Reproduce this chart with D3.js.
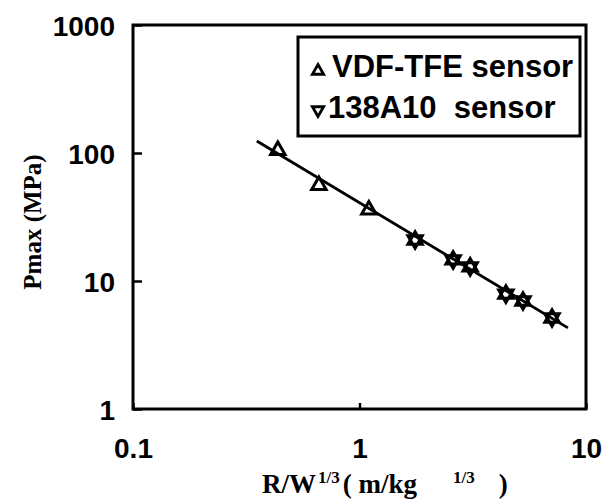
<!DOCTYPE html>
<html>
<head>
<meta charset="utf-8">
<script src="https://cdn.jsdelivr.net/npm/d3@7"></script>
<style>
    body { margin: 0; background: #fff; }
    .tick-label { font-family: "Liberation Sans", Arial, sans-serif; font-weight: bold; font-size: 28px; }
    .axis-title { font-family: "Liberation Serif", "Times New Roman", serif; font-weight: bold; fill: #000; }
    .legend-text { font-family: "Liberation Sans", Arial, sans-serif; font-weight: bold; font-size: 31px; fill: #000; }
</style>
</head>
<body>
<div id="divChart"></div>
<script>
// scaled distance R/W^1/3 (m/kg^1/3)
var vdfX = [0.436, 0.662, 1.10, 1.76, 2.59, 3.08, 4.43, 5.27, 7.08];
// peak pressure (MPa)
var vdfY = [105, 56, 35.9, 20.9, 14.6, 12.9, 7.9, 6.98, 5.14];

var pcbX = [1.76, 2.59, 3.08, 4.43, 5.27, 7.08];
var pcbY = [20.9, 14.6, 12.9, 7.9, 6.98, 5.14];

// fitted line end points
var fitX = [0.352, 8.32];
var fitY = [124, 4.30];

var xTicks = [0.1, 1, 10];
var yTicks = [1, 10, 100, 1000];
var legendNames = ["VDF-TFE sensor", "138A10  sensor"];

function drawChart() {
    var width = 606, height = 501;
    var margin = { top: 25, right: 20, bottom: 92, left: 133 };
    var plotW = width - margin.left - margin.right;
    var plotH = height - margin.top - margin.bottom;

    var svg = d3.select('#divChart').append('svg')
        .attr('width', width).attr('height', height);

    var g = svg.append('g')
        .attr('transform', 'translate(' + margin.left + ',' + margin.top + ')');

    var x = d3.scaleLog().domain([0.1, 10]).range([0, plotW]);
    var y = d3.scaleLog().domain([1, 1000]).range([plotH, 0]);

    //y axis, ticks pointing inward
    var yAxis = g.append('g')
        .call(d3.axisLeft(y).tickValues(yTicks).tickSize(-9).tickPadding(18)
            .tickFormat(function (d) { return String(d); }));
    yAxis.select('.domain').remove();
    yAxis.selectAll('line').attr('stroke', '#000').attr('stroke-width', 2.5);
    yAxis.selectAll('text').attr('class', 'tick-label').attr('fill', '#000').attr('dy', '0.36em');

    //x axis
    var xAxis = g.append('g')
        .attr('transform', 'translate(0,' + plotH + ')')
        .call(d3.axisBottom(x).tickValues(xTicks).tickSize(-6).tickPadding(29)
            .tickFormat(function (d) { return d < 1 ? "0.1" : String(d); }));
    xAxis.select('.domain').remove();
    xAxis.selectAll('line').attr('stroke', '#000').attr('stroke-width', 2.5);
    xAxis.selectAll('text').attr('class', 'tick-label').attr('fill', '#000');

    //frame
    g.append('rect')
        .attr('width', plotW).attr('height', plotH)
        .attr('fill', 'none').attr('stroke', '#000').attr('stroke-width', 3);

    //fit line
    var fitData = fitX.map(function (d, i) { return [d, fitY[i]]; });
    g.append('path')
        .datum(fitData)
        .attr('d', d3.line().x(function (d) { return x(d[0]); }).y(function (d) { return y(d[1]); }))
        .attr('fill', 'none').attr('stroke', '#000').attr('stroke-width', 2.8);

    var tri = d3.symbol().type(d3.symbolTriangle).size(90);

    function drawMarkers(xs, ys, rotate) {
        g.append('g').selectAll('path')
            .data(xs.map(function (d, i) { return [d, ys[i]]; }))
            .enter().append('path')
            .attr('d', tri)
            .attr('transform', function (d) {
                return 'translate(' + x(d[0]) + ',' + y(d[1]) + ') rotate(' + rotate + ')';
            })
            .attr('fill', 'none')
            .attr('stroke', '#000').attr('stroke-width', 3);
    }
    drawMarkers(vdfX, vdfY, 0);
    drawMarkers(pcbX, pcbY, 180);

    //legend box
    var legend = svg.append('g').attr('transform', 'translate(298,37)');
    legend.append('rect')
        .attr('width', 282).attr('height', 99)
        .attr('fill', '#fff').attr('stroke', '#000').attr('stroke-width', 3);

    var legendTri = d3.symbol().type(d3.symbolTriangle).size(55);
    legendNames.forEach(function (name, i) {
        var rowY = 40 + i * 41;
        legend.append('path')
            .attr('d', legendTri)
            .attr('transform', 'translate(20,' + (rowY - 6 - i * 2) + ') rotate(' + (i * 180) + ')')
            .attr('fill', 'none').attr('stroke', '#000').attr('stroke-width', 2.8);
        legend.append('text')
            .attr('class', 'legend-text')
            .attr('x', 34 - i * 4).attr('y', rowY)
            .attr('xml:space', 'preserve')
            .style('white-space', 'pre')
            .text(name);
    });

    //y title
    svg.append('text')
        .attr('class', 'axis-title')
        .attr('transform', 'translate(41,222) rotate(-90)')
        .attr('text-anchor', 'middle')
        .style('font-size', '25px')
        .text('Pmax (MPa)');

    //x title with superscripts
    var xt = svg.append('text')
        .attr('class', 'axis-title')
        .attr('x', 262).attr('y', 493)
        .style('font-size', '27px');
    xt.append('tspan').text('R/W');
    xt.append('tspan').attr('dx', 2).attr('dy', -10).style('font-size', '17px').text('1/3');
    xt.append('tspan').attr('dx', 3).attr('dy', 10).text('( m/kg');
    xt.append('tspan').attr('dx', 36).attr('dy', -10).style('font-size', '17px').text('1/3');
    xt.append('tspan').attr('dx', 24).attr('dy', 10).text(')');
}

drawChart();
</script>
</body>
</html>
